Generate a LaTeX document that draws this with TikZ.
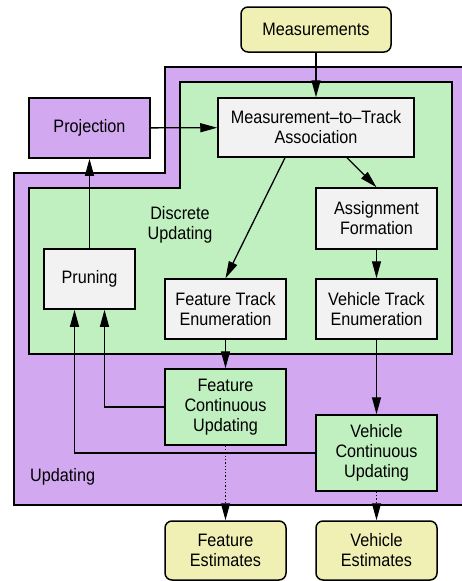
\documentclass[tikz,border=0pt]{standalone}
\usepackage{fontspec}
\setmainfont{Liberation Sans}[FakeStretch=0.9]
\usetikzlibrary{arrows.meta,calc}
\definecolor{updpurple}{RGB}{210,168,240}
\definecolor{discgreen}{RGB}{192,240,192}
\definecolor{boxgray}{RGB}{242,242,242}
\definecolor{ioyellow}{RGB}{240,240,180}
\tikzset{
  region/.style={draw=black, line width=1.3pt},
  procbox/.style={draw=black, line width=1.5pt, fill=boxgray, align=center,
    inner sep=0pt, font=\fontsize{18}{20}\selectfont},
  contbox/.style={procbox, fill=discgreen},
  projbox/.style={procbox, fill=updpurple},
  iobox/.style={procbox, fill=ioyellow, rounded corners=7pt},
  flow/.style={line width=1.3pt, -{Triangle[length=17pt,width=9pt]}},
  outflow/.style={flow, dotted},
  label/.style={align=center, inner sep=0pt, font=\fontsize{18}{20}\selectfont},
}
\begin{document}
\begin{tikzpicture}[x=1pt,y=-1pt]
\useasboundingbox (0,0) rectangle (461,581);

% outer updating region
\filldraw[region, fill=updpurple]
  (165,67) -- (475,67) -- (475,505) -- (14,505) -- (14,173) -- (165,173) -- cycle;
% discrete updating region
\filldraw[region, fill=discgreen]
  (180,82) -- (452,82) -- (452,354) -- (29,354) -- (29,188) -- (180,188) -- cycle;

\node[label] (disc) at (180,225) {Discrete\\Updating};
\node[label, anchor=west] (upd) at (30,477) {Updating};

% processing blocks
\node[iobox,  minimum width=150pt, minimum height=45pt] (meas)   at (316,29.5)   {Measurements};
\node[projbox, minimum width=121pt, minimum height=60pt] (proj)  at (89.5,128)   {Projection};
\node[procbox, minimum width=196pt, minimum height=59pt] (m2t)   at (316,127.5)  {Measurement–to–Track\\Association};
\node[procbox, minimum width=121pt, minimum height=61pt] (assign) at (376.5,218.5) {Assignment\\Formation};
\node[procbox, minimum width=91pt,  minimum height=60pt] (prune) at (89.5,279)   {Pruning};
\node[procbox, minimum width=121pt, minimum height=60pt] (fte)   at (225.5,309)  {Feature Track\\Enumeration};
\node[procbox, minimum width=121pt, minimum height=60pt] (vte)   at (376.5,309)  {Vehicle Track\\Enumeration};
\node[contbox, minimum width=121pt, minimum height=76pt] (fcu)   at (225.5,407)  {Feature\\Continuous\\Updating};
\node[contbox, minimum width=121pt, minimum height=76pt] (vcu)   at (376.5,453)  {Vehicle\\Continuous\\Updating};
\node[iobox,  minimum width=121pt, minimum height=59pt] (fest)   at (225.5,550.5) {Feature\\Estimates};
\node[iobox,  minimum width=121pt, minimum height=59pt] (vest)   at (376.5,550.5) {Vehicle\\Estimates};

% connectors
\draw[flow] (meas) -- (m2t);
\draw[flow] (proj) -- (m2t);
\draw[flow] ($(m2t.south)+(-31,0)$) -- (fte.north);
\draw[flow] ($(m2t.south)+(31,0)$) -- (assign.north);
\draw[flow] (assign) -- (vte);
\draw[flow] (fte) -- (fcu);
\draw[flow] (vte) -- (vcu);
\draw[flow] (fcu.west) -| ($(prune.south)+(15,0)$);
\draw[flow] (vcu.west) -| ($(prune.south)+(-15,0)$);
\draw[flow] (prune) -- (proj);
\draw[outflow] (fcu) -- (fest);
\draw[outflow] (vcu) -- (vest);
\end{tikzpicture}
\end{document}
